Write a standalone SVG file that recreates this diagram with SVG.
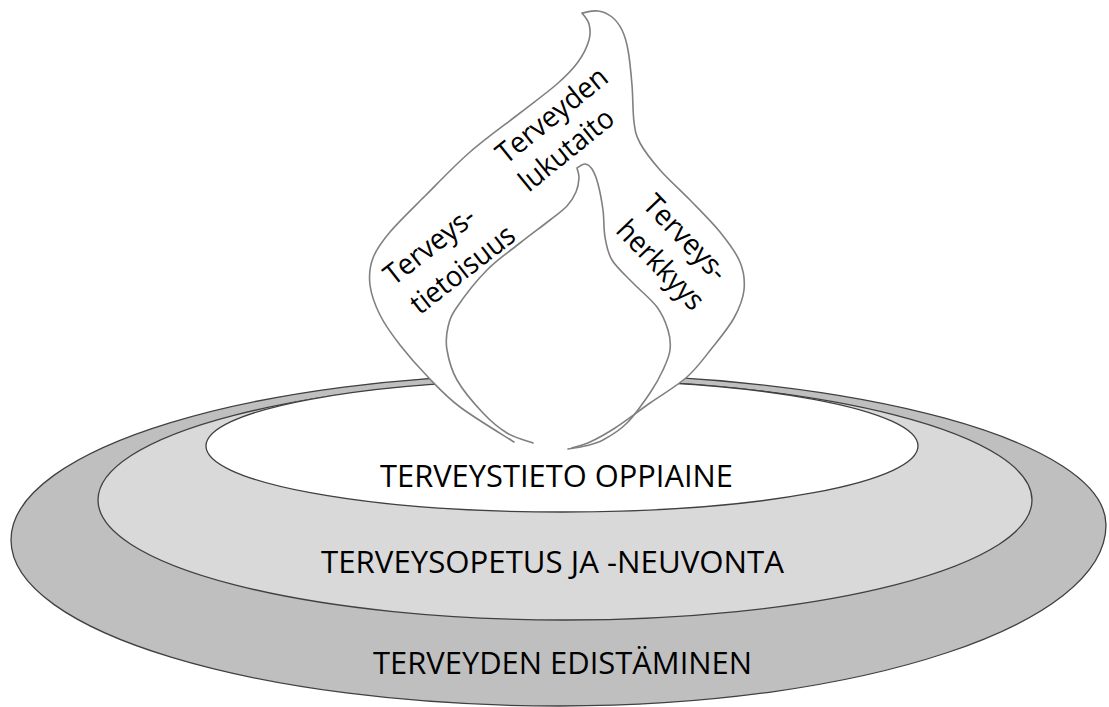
<svg xmlns="http://www.w3.org/2000/svg" width="1109" height="707" viewBox="0 0 1109 707">
  <style>
    .ring { stroke: #404040; stroke-width: 1.3; }
    .flame { stroke: #808080; stroke-width: 1.6; stroke-linejoin: round; stroke-linecap: round; }
    .lbl { font-family: "Open Sans", "Liberation Sans", sans-serif; fill: #000000; }
    .big { font-size: 31.5px; }
    .small { font-size: 29px; }
  </style>
  <rect width="1109" height="707" fill="#ffffff"/>

  <g id="layer-outer">
    <path class="ring" fill="#bfbfbf" d="M556,374 C859.8,374 1106,441.6 1106,525 C1106,625 861.6,706 560,706 C256.8,706 11,631.7 11,540 C11,448.3 255,374 556,374 Z"/>
  </g>
  <g id="layer-middle">
    <ellipse class="ring" fill="#d9d9d9" cx="565" cy="500" rx="467" ry="120"/>
  </g>
  <g id="layer-inner">
    <ellipse class="ring" fill="#ffffff" cx="562" cy="446" rx="356" ry="66"/>
  </g>

  <g id="flame">
    <path class="flame" fill="#ffffff" d="M514,442 C505,436.2 474.3,417.8 460,407 C445.7,396.2 438,387.3 428,377 C418,366.7 408,355.3 400,345 C392,334.7 385,325 380,315 C375,305 371.2,294.5 370,285 C368.8,275.5 369.7,266.8 373,258 C376.3,249.2 381.3,242.3 390,232 C398.7,221.7 411.7,209.3 425,196 C438.3,182.7 454.2,165.8 470,152 C485.8,138.2 505.5,124.3 520,113 C534.5,101.7 547.3,92.5 557,84 C566.7,75.5 572.7,69.3 578,62 C583.3,54.7 587.2,46.3 589,40 C590.8,33.7 590.2,28.5 589,24 C587.8,19.5 583.2,14.8 582,13 C584.7,12.7 593,10.3 598,11 C603,11.7 608,13.8 612,17 C616,20.2 619.3,24.5 622,30 C624.7,35.5 626.3,40.8 628,50 C629.7,59.2 631,73 632,85 C633,97 632.7,112.3 634,122 C635.3,131.7 635.7,135 640,143 C644.3,151 651.7,160.5 660,170 C668.3,179.5 680,189.7 690,200 C700,210.3 711.7,221.7 720,232 C728.3,242.3 736,252.3 740,262 C744,271.7 745,280.7 744,290 C743,299.3 739.3,308.3 734,318 C728.7,327.7 719.8,338.2 712,348 C704.2,357.8 697.3,367.8 687,377 C676.7,386.2 662,394.5 650,403 C638,411.5 625,421.5 615,428 C605,434.5 597.2,438.7 590,442 C582.8,445.3 575,447 572,448"/>
    <path class="flame" fill="none" d="M533,443 C528.7,441.3 515.3,438 507,433 C498.7,428 491.3,421.8 483,413 C474.7,404.2 463,390.5 457,380 C451,369.5 448.5,358.8 447,350 C445.5,341.2 446.3,334.2 448,327 C449.7,319.8 450.5,316.5 457,307 C463.5,297.5 476.5,280.7 487,270 C497.5,259.3 509.5,251.3 520,243 C530.5,234.7 542.2,226.2 550,220 C557.8,213.8 562.7,210.7 567,206 C571.3,201.3 574,196.7 576,192 C578,187.3 578.8,182 579,178 C579.2,174 577.3,169.7 577,168 C578.3,167.3 582.5,163.8 585,164 C587.5,164.2 589.8,165.7 592,169 C594.2,172.3 596.2,177.2 598,184 C599.8,190.8 601.8,201.2 603,210 C604.2,218.8 603.5,228.7 605,237 C606.5,245.3 607.3,252.3 612,260 C616.7,267.7 625.5,275.2 633,283 C640.5,290.8 651.2,299.2 657,307 C662.8,314.8 665.8,322.8 668,330 C670.2,337.2 670.8,343.3 670,350 C669.2,356.7 666.3,362.8 663,370 C659.7,377.2 656,384.2 650,393 C644,401.8 634.8,415.2 627,423 C619.2,430.8 610,436.2 603,440 C596,443.8 590.8,444.5 585,446 C579.2,447.5 570.8,448.5 568,449"/>
  </g>

  <g id="label-lukutaito" class="lbl small" transform="translate(506,165) rotate(-39)">
    <text x="0" y="0" textLength="134" lengthAdjust="spacingAndGlyphs">Terveyden</text>
    <text x="0" y="36" textLength="113" lengthAdjust="spacingAndGlyphs">lukutaito</text>
  </g>
  <g id="label-tietoisuus" class="lbl small" transform="translate(393.4,286.5) rotate(-38)">
    <text x="0" y="0" textLength="107" lengthAdjust="spacingAndGlyphs">Terveys-</text>
    <text x="3" y="39" textLength="124" lengthAdjust="spacingAndGlyphs">tietoisuus</text>
  </g>
  <g id="label-herkkyys" class="lbl small" transform="translate(641.2,205.9) rotate(46)">
    <text x="0" y="0" textLength="107" lengthAdjust="spacingAndGlyphs">Terveys-</text>
    <text x="0" y="37" textLength="112" lengthAdjust="spacingAndGlyphs">herkkyys</text>
  </g>

  <g id="label-oppiaine" class="lbl big">
    <text x="380" y="487" textLength="353" lengthAdjust="spacingAndGlyphs">TERVEYSTIETO OPPIAINE</text>
  </g>
  <g id="label-neuvonta" class="lbl big">
    <text x="321" y="573" textLength="463" lengthAdjust="spacingAndGlyphs">TERVEYSOPETUS JA -NEUVONTA</text>
  </g>
  <g id="label-edistaminen" class="lbl big">
    <text x="373" y="674" textLength="379" lengthAdjust="spacingAndGlyphs">TERVEYDEN EDISTÄMINEN</text>
  </g>
</svg>
